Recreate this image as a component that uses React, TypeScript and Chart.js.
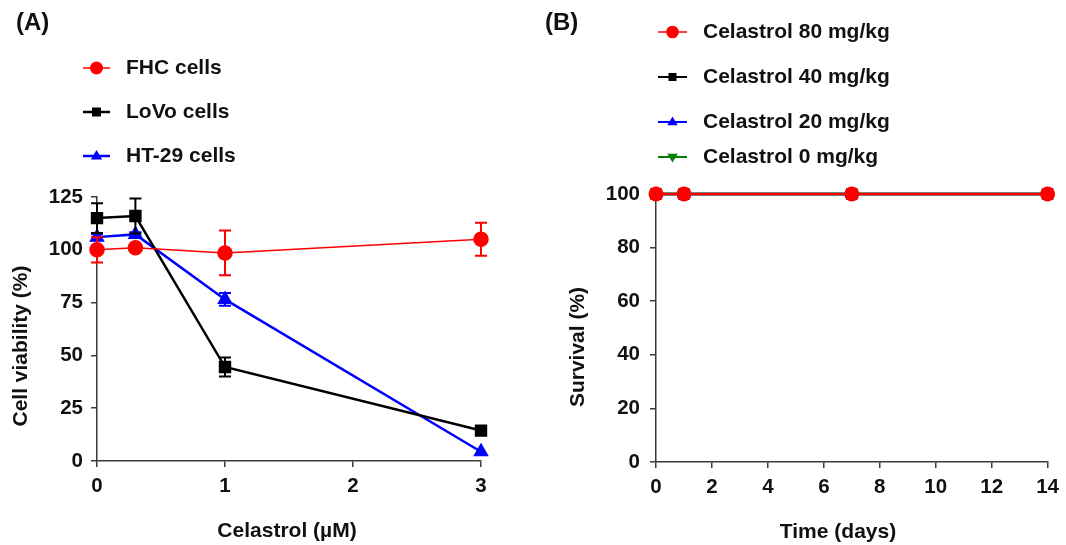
import React, { useEffect, useRef } from 'react';
import { Chart, registerables } from 'chart.js';

Chart.register(...registerables);

// ---------- Data: panel A ----------
const concA = [0, 0.3, 1, 3];
const fhcMean = [100, 101, 98.5, 105];
const fhcErr = [6, 0, 10.6, 7.8];
const lovoMean = [115, 116, 44.5, 14.4];
const lovoErr = [7, 8.3, 4.5, 0];
const ht29Mean = [106, 107.3, 76.5, 4.4];
const ht29Err = [1.5, 1, 3, 0];
const seriesNamesA = ['FHC cells', 'LoVo cells', 'HT-29 cells'];

// ---------- Data: panel B ----------
const days = [0, 1, 7, 14];
const surv80 = [100, 100, 100, 100];
const surv40 = [100, 100, 100, 100];
const surv20 = [100, 100, 100, 100];
const surv0 = [100, 100, 100, 100];
const seriesNamesB = ['Celastrol 80 mg/kg', 'Celastrol 40 mg/kg', 'Celastrol 20 mg/kg', 'Celastrol 0 mg/kg'];

const FONT = '"Liberation Sans", Arial, Helvetica, sans-serif';
const AXIS = '#3a3a3a';
const TXT = '#111111';
const TICK_SIZE = 20.5;
const LEG_SIZE = 21;
const TITLE_SIZE = 21;

type Mk = 'circle' | 'square' | 'tri' | 'dtri';

function drawMarker(ctx: CanvasRenderingContext2D, kind: Mk, x: number, y: number, r: number, color: string) {
  ctx.save();
  ctx.fillStyle = color;
  ctx.beginPath();
  if (kind === 'circle') {
    ctx.arc(x, y, r, 0, Math.PI * 2);
  } else if (kind === 'square') {
    ctx.rect(x - r, y - r, 2 * r, 2 * r);
  } else if (kind === 'tri') {
    ctx.moveTo(x, y - r);
    ctx.lineTo(x + r * 0.95, y + r * 0.6);
    ctx.lineTo(x - r * 0.95, y + r * 0.6);
    ctx.closePath();
  } else {
    ctx.moveTo(x, y + r);
    ctx.lineTo(x + r * 0.95, y - r * 0.6);
    ctx.lineTo(x - r * 0.95, y - r * 0.6);
    ctx.closePath();
  }
  ctx.fill();
  ctx.restore();
}

function text(ctx: CanvasRenderingContext2D, s: string, x: number, y: number, size: number, align: CanvasTextAlign, rotate = false) {
  ctx.save();
  ctx.fillStyle = TXT;
  ctx.font = `bold ${size}px ${FONT}`;
  ctx.textAlign = align;
  ctx.textBaseline = 'middle';
  ctx.translate(x, y);
  if (rotate) ctx.rotate(-Math.PI / 2);
  ctx.fillText(s, 0, 0);
  ctx.restore();
}

interface LegendItem { label: string; color: string; marker: Mk; r: number; lw: number; }
interface Deco {
  title: string; titleX: number; titleY: number;
  legend: LegendItem[]; legX1: number; legX2: number; legTextX: number; legYs: number[];
  yTitle: string; yTitleX: number; yTitleY: number;
  xTitle: string; xTitleX: number; xTitleY: number;
}

function makeDecoPlugin(d: Deco) {
  return {
    id: 'deco',
    afterDraw(chart: any) {
      const ctx: CanvasRenderingContext2D = chart.ctx;
      text(ctx, d.title, d.titleX, d.titleY, 24, 'left');
      d.legend.forEach((it, i) => {
        const y = d.legYs[i];
        ctx.save();
        ctx.strokeStyle = it.color;
        ctx.lineWidth = it.lw;
        ctx.beginPath();
        ctx.moveTo(d.legX1, y);
        ctx.lineTo(d.legX2, y);
        ctx.stroke();
        ctx.restore();
        drawMarker(ctx, it.marker, (d.legX1 + d.legX2) / 2, y, it.r, it.color);
        text(ctx, it.label, d.legTextX, y, LEG_SIZE, 'left');
      });
      text(ctx, d.yTitle, d.yTitleX, d.yTitleY, TITLE_SIZE, 'center', true);
      text(ctx, d.xTitle, d.xTitleX, d.xTitleY, TITLE_SIZE, 'center');
    },
  };
}

const errorBarPlugin = {
  id: 'errbars',
  beforeDatasetDraw(chart: any, args: any) {
    const ds = chart.data.datasets[args.index];
    const errs: number[] | undefined = ds.errors;
    if (!errs) return;
    const meta = chart.getDatasetMeta(args.index);
    const ys = chart.scales.y;
    const ctx: CanvasRenderingContext2D = chart.ctx;
    ctx.save();
    ctx.strokeStyle = ds.borderColor;
    ctx.lineWidth = 2;
    meta.data.forEach((pt: any, j: number) => {
      const e = errs[j];
      if (!e) return;
      const v = ds.data[j].y;
      const t = ys.getPixelForValue(v + e);
      const b = ys.getPixelForValue(v - e);
      ctx.beginPath();
      ctx.moveTo(pt.x, t);
      ctx.lineTo(pt.x, b);
      ctx.moveTo(pt.x - 6, t);
      ctx.lineTo(pt.x + 6, t);
      ctx.moveTo(pt.x - 6, b);
      ctx.lineTo(pt.x + 6, b);
      ctx.stroke();
    });
    ctx.restore();
  },
};

function pts(xs: number[], ys: number[]) {
  return xs.map((x, i) => ({ x, y: ys[i] }));
}

function axisCommon(min: number, max: number, step: number, pad: number) {
  return {
    type: 'linear' as const,
    min, max,
    ticks: { stepSize: step, color: TXT, padding: pad, font: { family: FONT, size: TICK_SIZE, weight: 'bold' as const } },
    grid: { drawOnChartArea: false, drawTicks: true, tickLength: 6, color: AXIS, lineWidth: 1.5 },
    border: { display: true, color: AXIS, width: 1.5 },
  };
}

function PanelA() {
  const ref = useRef<HTMLCanvasElement>(null);
  useEffect(() => {
    const deco = makeDecoPlugin({
      title: '(A)', titleX: 16, titleY: 23,
      legend: [
        { label: seriesNamesA[0], color: '#ff0000', marker: 'circle', r: 6.5, lw: 1.5 },
        { label: seriesNamesA[1], color: '#000000', marker: 'square', r: 4.5, lw: 2.5 },
        { label: seriesNamesA[2], color: '#0000ff', marker: 'tri', r: 6, lw: 2.5 },
      ],
      legX1: 83, legX2: 110, legTextX: 126, legYs: [68, 112, 156],
      yTitle: 'Cell viability (%)', yTitleX: 21, yTitleY: 346,
      xTitle: 'Celastrol (µM)', xTitleX: 287, xTitleY: 531,
    });
    const chart = new Chart(ref.current!, {
      type: 'line',
      data: {
        datasets: [
          { label: seriesNamesA[0], data: pts(concA, fhcMean), errors: fhcErr, borderColor: '#ff0000', backgroundColor: '#ff0000', borderWidth: 1.5, pointStyle: 'circle', pointRadius: 7, clip: false } as any,
          { label: seriesNamesA[1], data: pts(concA, lovoMean), errors: lovoErr, borderColor: '#000000', backgroundColor: '#000000', borderWidth: 2.5, pointStyle: 'rect', pointRadius: 7, clip: false } as any,
          { label: seriesNamesA[2], data: pts(concA, ht29Mean), errors: ht29Err, borderColor: '#0000ff', backgroundColor: '#0000ff', borderWidth: 2.5, pointStyle: 'triangle', pointRadius: 6.5, clip: false } as any,
        ],
      },
      options: {
        responsive: false,
        animation: false,
        layout: { padding: { top: 197, right: 52, left: 0, bottom: 0 } },
        plugins: { legend: { display: false }, tooltip: { enabled: false } },
        scales: {
          x: { ...axisCommon(0, 3, 1, 7), afterFit: (s: any) => { s.height = 84; } },
          y: { ...axisCommon(0, 125, 25, 8), afterFit: (s: any) => { s.width = 97; } },
        },
      },
      plugins: [errorBarPlugin, deco],
    } as any);
    return () => chart.destroy();
  }, []);
  return <canvas ref={ref} width={533} height={545} style={{ display: 'block' }} />;
}

function PanelB() {
  const ref = useRef<HTMLCanvasElement>(null);
  useEffect(() => {
    const deco = makeDecoPlugin({
      title: '(B)', titleX: 12, titleY: 23,
      legend: [
        { label: seriesNamesB[0], color: '#ff0000', marker: 'circle', r: 6.3, lw: 1.5 },
        { label: seriesNamesB[1], color: '#000000', marker: 'square', r: 4, lw: 2 },
        { label: seriesNamesB[2], color: '#0000ff', marker: 'tri', r: 5.5, lw: 2 },
        { label: seriesNamesB[3], color: '#008000', marker: 'dtri', r: 5.5, lw: 2 },
      ],
      legX1: 125, legX2: 154, legTextX: 170, legYs: [32, 77, 122, 157],
      yTitle: 'Survival (%)', yTitleX: 45, yTitleY: 347,
      xTitle: 'Time (days)', xTitleX: 305, xTitleY: 532,
    });
    const chart = new Chart(ref.current!, {
      type: 'line',
      data: {
        datasets: [
          { label: seriesNamesB[0], data: pts(days, surv80), borderColor: '#ff0000', backgroundColor: '#ff0000', borderWidth: 2, pointStyle: 'circle', pointRadius: 6.5, clip: false },
          { label: seriesNamesB[1], data: pts(days, surv40), borderColor: '#000000', backgroundColor: '#000000', borderWidth: 3, pointStyle: 'rect', pointRadius: 6, clip: false },
          { label: seriesNamesB[2], data: pts(days, surv20), borderColor: '#0000ff', backgroundColor: '#0000ff', borderWidth: 2, pointStyle: 'triangle', pointRadius: 5.5, clip: false },
          { label: seriesNamesB[3], data: pts(days, surv0), borderColor: '#008000', backgroundColor: '#008000', borderWidth: 2, pointStyle: 'triangle', pointRotation: 180, pointRadius: 5.5, clip: false },
        ],
      },
      options: {
        responsive: false,
        animation: false,
        layout: { padding: { top: 194, right: 18, left: 0, bottom: 0 } },
        plugins: { legend: { display: false }, tooltip: { enabled: false } },
        scales: {
          x: { ...axisCommon(0, 14, 2, 7), afterFit: (s: any) => { s.height = 83; } },
          y: { ...axisCommon(0, 100, 20, 10), afterFit: (s: any) => { s.width = 123; } },
        },
      },
      plugins: [deco],
    } as any);
    return () => chart.destroy();
  }, []);
  return <canvas ref={ref} width={533} height={545} style={{ display: 'block' }} />;
}

export default function App() {
  return (
    <div style={{ position: 'absolute', left: 0, top: 0, width: 1066, height: 545, display: 'flex', background: '#ffffff' }}>
      <PanelA />
      <PanelB />
    </div>
  );
}
